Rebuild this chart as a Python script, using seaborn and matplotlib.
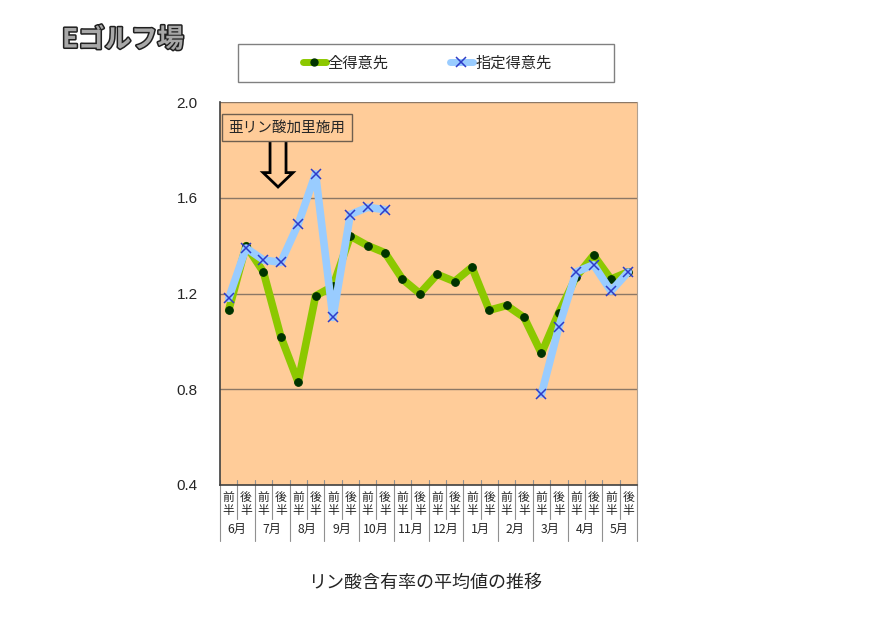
import numpy as np
import pandas as pd
import matplotlib
matplotlib.use("Agg")
import matplotlib.pyplot as plt
import matplotlib.patheffects as pe
from matplotlib.patches import Rectangle, FancyArrow
from matplotlib.lines import Line2D
import seaborn as sns

sns.set_style("white")
plt.rcParams['font.family'] = ['Noto Sans CJK JP', 'DejaVu Sans']

# ---- data ----
periods = ['前\n半', '後\n半'] * 12
months = ['6月', '7月', '8月', '9月', '10月', '11月', '12月', '1月', '2月', '3月', '4月', '5月']
all_clients = [1.13, 1.40, 1.29, 1.02, 0.83, 1.19, 1.23, 1.44, 1.40, 1.37, 1.26, 1.20,
               1.28, 1.25, 1.31, 1.13, 1.15, 1.10, 0.95, 1.12, 1.27, 1.36, 1.26, 1.29]
nan = np.nan
designated = [1.18, 1.39, 1.34, 1.33, 1.49, 1.70, 1.10, 1.53, 1.56, 1.55,
              nan, nan, nan, nan, nan, nan, nan, nan,
              0.78, 1.06, 1.29, 1.32, 1.21, 1.29]
y_ticks = [0.4, 0.8, 1.2, 1.6, 2.0]
series_names = ['全得意先', '指定得意先']
title = 'Eゴルフ場'
caption = 'リン酸含有率の平均値の推移'
note = '亜リン酸加里施用'

df = pd.DataFrame({'pos': np.arange(len(periods)), 'all': all_clients, 'des': designated})

W, H = 886, 626
fig = plt.figure(figsize=(W / 100, H / 100), dpi=100)
ax = fig.add_axes([220 / W, 1 - 485 / H, 417 / W, 383 / H])
ax.set_facecolor('#FFCC99')

green = '#8CC800'
blue = '#99CCFF'

sns.lineplot(data=df, x='pos', y='all', ax=ax, color=green, lw=5.5,
             marker='o', markersize=5.5, markerfacecolor='#003300',
             markeredgecolor='#003300', zorder=3, legend=False)

# designated: draw each contiguous run separately (gaps in data)
mask = df['des'].notna().to_numpy()
runs = []
start = None
for i, m in enumerate(mask):
    if m and start is None:
        start = i
    if not m and start is not None:
        runs.append((start, i)); start = None
if start is not None:
    runs.append((start, len(mask)))
for a, b in runs:
    sns.lineplot(data=df.iloc[a:b], x='pos', y='des', ax=ax, color=blue, lw=5.5,
                 marker='x', markersize=7, markeredgecolor='#2E3CC8', markeredgewidth=1.1,
                 zorder=4, legend=False)

ax.set_xlim(-0.5, len(periods) - 0.5)
ax.set_ylim(y_ticks[0], y_ticks[-1])
ax.set_yticks(y_ticks)
ax.set_yticklabels([f'{v:.1f}' for v in y_ticks], fontfamily='Liberation Sans', fontsize=11)
ax.tick_params(axis='y', length=0, pad=16)
ax.set_xticks(df['pos'])
ax.set_xticklabels(periods, fontsize=8.5, linespacing=1.0)
ax.tick_params(axis='x', length=0, pad=4)
ax.set_xlabel('')
ax.set_ylabel('')
for v in y_ticks[1:]:
    ax.axhline(v, color='#8C7866', lw=1, zorder=1)
ax.grid(False)
for s in ['left', 'bottom']:
    ax.spines[s].set_color('#404040'); ax.spines[s].set_linewidth(1.2)
ax.spines['top'].set_visible(False)
ax.spines['right'].set_color('#b0a090')

# category table separators
tr = ax.get_xaxis_transform()
for i in range(len(periods) + 1):
    xb = i - 0.5
    depth = -0.147 if i % 2 == 0 else -0.088
    ax.plot([xb, xb], [0.012, depth], transform=tr, color='#909090', lw=0.8, clip_on=False)
for k, m in enumerate(months):
    ax.text(2 * k + 0.5, -0.117, m, transform=tr, ha='center', va='center', fontsize=8.8)

# annotation box and hollow arrow
ax.text(0.021, 0.934, note, transform=ax.transAxes, fontsize=10.5, ha='left', va='center',
        bbox=dict(boxstyle='square,pad=0.45', fc='#FFCC99', ec='#6f5f4f', lw=1), zorder=6)
ax.add_patch(FancyArrow(2.84, 1.845, 0, -0.20, width=0.92, head_width=1.72, head_length=0.06,
                        length_includes_head=True, fill=False, ec='black', lw=2.0, zorder=5))

# legend
fig.patches.append(Rectangle((238 / W, 1 - 82 / H), 376 / W, 38 / H, transform=fig.transFigure,
                             fill=False, ec='#808080', lw=1))
handles = [Line2D([], [], color=green, lw=5, marker='o', markersize=5,
                  markerfacecolor='#003300', markeredgecolor='#003300'),
           Line2D([], [], color=blue, lw=5, marker='x', markersize=7,
                  markeredgecolor='#2E3CC8', markeredgewidth=1.1)]
fig.legend(handles, series_names, loc='center', bbox_to_anchor=(427 / W, 1 - 63 / H),
           ncol=2, frameon=False, fontsize=11, handlelength=1.5, handletextpad=0.15,
           columnspacing=4.0)

fig.text(62 / W, 1 - 40 / H, title, fontsize=19, fontweight='bold', color='#a8a8a8',
         ha='left', va='center',
         path_effects=[pe.withStroke(linewidth=2.2, foreground='#202020')])
fig.text(425 / W, 1 - 583 / H, caption, fontsize=13, ha='center', va='center')

fig.savefig('out.png', dpi=100, facecolor='white')
